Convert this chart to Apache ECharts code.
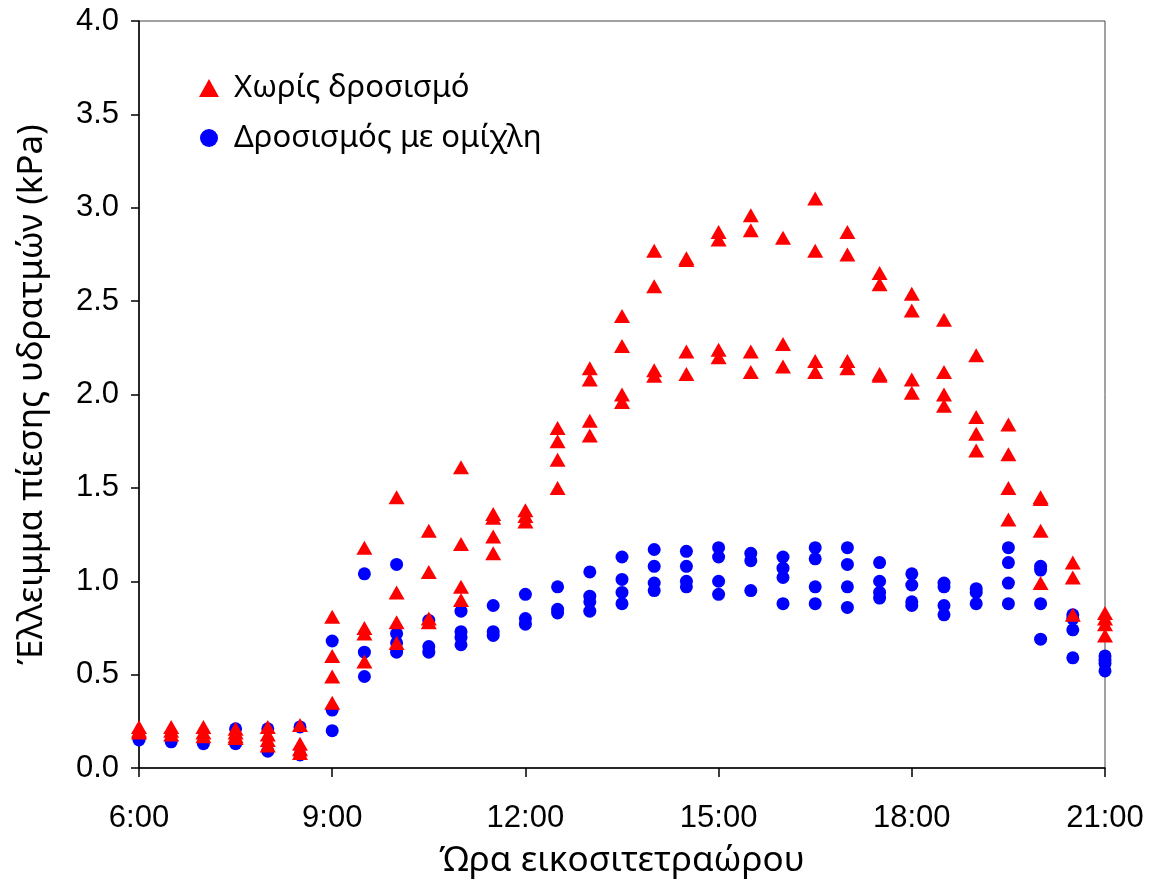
<!DOCTYPE html>
<html>
<head>
<meta charset="utf-8">
<script src="https://cdn.jsdelivr.net/npm/echarts@6/dist/echarts.min.js"></script>
<style>html,body{margin:0;padding:0;background:#fff;}#chart{width:1149px;height:879px;}</style>
</head>
<body>
<div id="chart"></div>
<script>
// Hours of the day (decimal) for each sampling time
var hours = [6, 6.5, 7, 7.5, 8, 8.5, 9, 9.5, 10, 10.5, 11, 11.5, 12, 12.5, 13, 13.5, 14, 14.5, 15, 15.5, 16, 16.5, 17, 17.5, 18, 18.5, 19, 19.5, 20, 20.5, 21];
var xTickHours = [6, 9, 12, 15, 18, 21];
var yTicks = [0, 0.5, 1, 1.5, 2, 2.5, 3, 3.5, 4];

var seriesNames = ['Χωρίς δροσισμό', 'Δροσισμός με ομίχλη'];

// VPD (kPa) without cooling, several readings per time
var noCooling = [
  [0.22, 0.20, 0.19],
  [0.22, 0.20, 0.18],
  [0.22, 0.19, 0.17],
  [0.21, 0.19, 0.17, 0.16],
  [0.22, 0.18, 0.15, 0.12],
  [0.23, 0.13, 0.10, 0.08],
  [0.81, 0.60, 0.49, 0.35],
  [1.18, 0.75, 0.72, 0.57],
  [1.45, 0.94, 0.78, 0.67],
  [1.27, 1.05, 0.80, 0.78],
  [1.61, 1.20, 0.97, 0.90],
  [1.36, 1.34, 1.24, 1.15],
  [1.38, 1.35, 1.32],
  [1.82, 1.75, 1.65, 1.50],
  [2.14, 2.08, 1.86, 1.78],
  [2.42, 2.26, 2.00, 1.96],
  [2.77, 2.58, 2.13, 2.10],
  [2.73, 2.72, 2.23, 2.11],
  [2.87, 2.83, 2.24, 2.20],
  [2.96, 2.88, 2.23, 2.12],
  [2.84, 2.27, 2.15],
  [3.05, 2.77, 2.18, 2.12],
  [2.87, 2.75, 2.18, 2.14],
  [2.65, 2.59, 2.11, 2.10],
  [2.54, 2.45, 2.08, 2.01],
  [2.40, 2.12, 2.00, 1.94],
  [2.21, 1.88, 1.79, 1.70],
  [1.84, 1.68, 1.50, 1.33],
  [1.45, 1.44, 1.27, 0.99],
  [1.10, 1.02, 0.82],
  [0.83, 0.80, 0.77, 0.71]
];

// VPD (kPa) with fog cooling
var fogCooling = [
  [0.15, 0.16],
  [0.14],
  [0.13],
  [0.21, 0.13],
  [0.21, 0.09],
  [0.22, 0.07],
  [0.68, 0.31, 0.20],
  [1.04, 0.62, 0.49],
  [1.09, 0.72, 0.67, 0.62],
  [0.79, 0.65, 0.62],
  [0.84, 0.73, 0.70, 0.66],
  [0.87, 0.73, 0.71],
  [0.93, 0.80, 0.77],
  [0.97, 0.85, 0.83],
  [1.05, 0.92, 0.89, 0.84],
  [1.13, 1.01, 0.94, 0.88],
  [1.17, 1.08, 0.99, 0.95],
  [1.16, 1.08, 1.00, 0.97],
  [1.18, 1.13, 1.00, 0.93],
  [1.15, 1.11, 0.95],
  [1.13, 1.07, 1.02, 0.88],
  [1.18, 1.12, 0.97, 0.88],
  [1.18, 1.09, 0.97, 0.86],
  [1.10, 1.00, 0.94, 0.91],
  [1.04, 0.98, 0.89, 0.87],
  [0.99, 0.97, 0.87, 0.82],
  [0.96, 0.94, 0.88],
  [1.18, 1.10, 0.99, 0.88],
  [1.08, 1.06, 0.88, 0.69],
  [0.82, 0.80, 0.74, 0.59],
  [0.60, 0.58, 0.56, 0.52]
];

function toPoints(groups) {
  var pts = [];
  groups.forEach(function (vals, i) {
    vals.forEach(function (v) { pts.push([hours[i], v]); });
  });
  return pts;
}

var labelFont = '"Liberation Sans", Arial, sans-serif';
var titleFont = '"Noto Sans", "Open Sans", sans-serif';

var chart = echarts.init(document.getElementById('chart'), null, {renderer: 'canvas'});
chart.setOption({
  animation: false,
  backgroundColor: '#ffffff',
  grid: {left: 139, right: 44, top: 21, bottom: 111, show: true, borderColor: '#444', borderWidth: 1, containLabel: false, outerBoundsMode: 'none'},
  legend: {
    orient: 'vertical',
    left: 194,
    top: 65,
    data: [seriesNames[0], seriesNames[1]],
    itemWidth: 20,
    itemHeight: 18,
    itemGap: 14,
    textStyle: {fontFamily: titleFont, fontSize: 31, color: '#000', lineHeight: 36, padding: [0, 0, 0, 10]}
  },
  xAxis: {
    type: 'value',
    min: 6, max: 21, interval: 3,
    name: 'Ώρα εικοσιτετραώρου',
    nameLocation: 'middle',
    nameGap: 76,
    nameTextStyle: {fontFamily: titleFont, fontSize: 35, color: '#000'},
    axisLine: {show: true, onZero: false, lineStyle: {color: '#000', width: 1.5}},
    axisTick: {show: true, inside: false, length: 9, lineStyle: {color: '#000', width: 1.5}},
    axisLabel: {
      margin: 35, fontFamily: labelFont, fontSize: 31, color: '#000',
      formatter: function (v) { return xTickHours.indexOf(v) >= 0 ? v + ':00' : ''; }
    },
    splitLine: {show: false}
  },
  yAxis: {
    type: 'value',
    min: 0, max: 4, interval: 0.5,
    name: 'Έλλειμμα πίεσης υδρατμών (kPa)',
    nameLocation: 'middle',
    nameGap: 89,
    nameTextStyle: {fontFamily: titleFont, fontSize: 35, color: '#000'},
    axisLine: {show: true, lineStyle: {color: '#000', width: 1.5}},
    axisTick: {show: true, inside: false, length: 8, lineStyle: {color: '#000', width: 1.5}},
    axisLabel: {
      margin: 20, fontFamily: labelFont, fontSize: 31, color: '#000',
      formatter: function (v) { return yTicks.indexOf(v) >= 0 ? v.toFixed(1) : ''; }
    },
    splitLine: {show: false}
  },
  series: [
    {
      name: seriesNames[1],
      type: 'scatter',
      symbol: 'circle',
      symbolSize: 13,
      itemStyle: {color: '#0000FF', opacity: 1},
      data: toPoints(fogCooling),
      z: 2
    },
    {
      name: seriesNames[0],
      type: 'scatter',
      symbol: 'triangle',
      symbolSize: [16, 14],
      itemStyle: {color: '#FF0000', opacity: 1},
      data: toPoints(noCooling),
      z: 3
    }
  ]
});
</script>
</body>
</html>
